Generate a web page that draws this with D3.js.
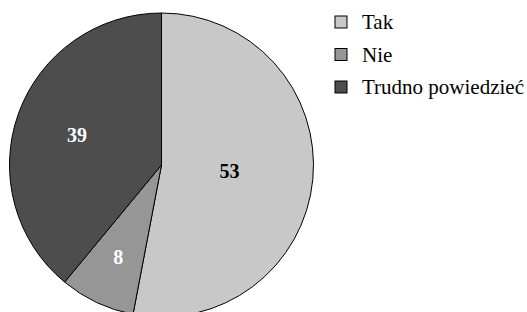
<!DOCTYPE html>
<html><head><meta charset="utf-8">
<script src="https://cdn.jsdelivr.net/npm/d3@7"></script>
<style>html,body{margin:0;padding:0;background:#fff;}svg{display:block;}
text{font-family:"Liberation Serif","DejaVu Serif",serif;}</style>
</head><body>
<script>
const categories = ["Tak", "Nie", "Trudno powiedzieć"];
const values = [53, 8, 39];
const colors = ["#c8c8c8", "#969696", "#4d4d4d"];
const labelColors = ["#000", "#fff", "#fff"];
const labelRadiusFrac = [0.45, 0.67, 0.59];

const W = 527, H = 312;
const cx = 161.5, cy = 165, R = 152;
const svg = d3.select("body").append("svg").attr("width", W).attr("height", H);
const g = svg.append("g").attr("transform", `translate(${cx},${cy})`);

const pie = d3.pie().sort(null).value(d => d)(values);
const arc = d3.arc().innerRadius(0).outerRadius(R);

g.selectAll("path").data(pie).join("path")
  .attr("d", arc).attr("fill", (d, i) => colors[i])
  .attr("stroke", "#000").attr("stroke-width", 1);

g.selectAll("text").data(pie).join("text")
  .attr("transform", (d, i) => {
    const a = (d.startAngle + d.endAngle) / 2, r = R * labelRadiusFrac[i];
    return `translate(${Math.sin(a) * r},${-Math.cos(a) * r})`;
  })
  .attr("text-anchor", "middle").attr("dy", "0.35em")
  .attr("font-weight", "bold").attr("font-size", 20)
  .attr("fill", (d, i) => labelColors[i])
  .text(d => d.data);

const legend = svg.append("g").attr("transform", "translate(335,16)");
const ly = d3.scalePoint().domain(categories).range([0, 65]);
const items = legend.selectAll("g").data(categories).join("g")
  .attr("transform", d => `translate(0,${ly(d)})`);
items.append("rect").attr("width", 12).attr("height", 12)
  .attr("fill", (d, i) => colors[i]).attr("stroke", "#000").attr("stroke-width", 1);
items.append("text").attr("x", 27).attr("y", 6).attr("dy", "0.35em")
  .attr("font-size", 21).attr("fill", "#000").text(d => d);
</script>
</body></html>
